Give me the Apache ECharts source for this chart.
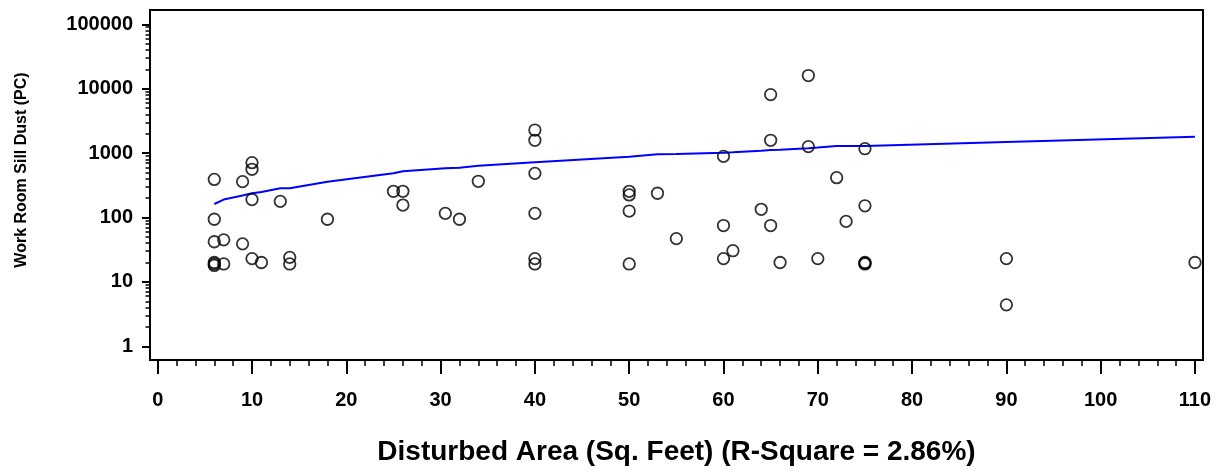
<!DOCTYPE html>
<html>
<head>
<meta charset="utf-8">
<script src="https://cdn.jsdelivr.net/npm/echarts@6/dist/echarts.min.js"></script>
<style>
  html, body { margin: 0; padding: 0; background: #fff; }
  #chart { width: 1225px; height: 474px; }
</style>
</head>
<body>
<div id="chart"></div>
<script>
// ---- data ----
const areaX = [6, 6, 6, 6, 6, 6, 7, 7, 9, 9, 10, 10, 10, 10, 11, 13, 14, 14, 18, 25, 26, 26, 30.5, 32, 34,
  40, 40, 40, 40, 40, 40, 50, 50, 50, 50, 53, 55, 60, 60, 60, 61, 64, 65, 65, 65, 66, 69, 69, 70, 72, 73,
  75, 75, 75, 75, 75, 90, 90, 110];
const dustY = [390, 94, 42, 20, 19, 18, 45, 19, 360, 39, 710, 560, 190, 23, 20, 178, 24, 19, 94, 255, 255, 156, 116, 94, 365,
  2280, 1580, 485, 116, 23, 19, 255, 224, 126, 19, 238, 47, 890, 75, 23, 30.5, 134, 8100, 1580, 75, 20, 16000, 1260, 23, 415, 87,
  1170, 152, 20, 19, 19.5, 23, 4.4, 20];

const fitX = [6, 7, 9, 10, 11, 13, 14, 18, 25, 26, 30.5, 32, 34, 40, 50, 53, 55, 60, 61, 64, 65, 66, 69, 70, 72, 73, 75, 90, 110];
const fitY = [162, 190, 220, 238, 249, 284, 284, 360, 485, 521, 580, 593, 637, 719, 880, 958, 968, 1015, 1030, 1090, 1117, 1125,
  1190, 1220, 1290, 1290, 1290, 1485, 1797];

const xMajorTicks = [0, 10, 20, 30, 40, 50, 60, 70, 80, 90, 100, 110];
const xMinorTicks = [2, 4, 6, 8, 12, 14, 16, 18, 22, 24, 26, 28, 32, 34, 36, 38, 42, 44, 46, 48, 52, 54, 56, 58,
  62, 64, 66, 68, 72, 74, 76, 78, 82, 84, 86, 88, 92, 94, 96, 98, 102, 104, 106, 108];
const yMajorTicks = [1, 10, 100, 1000, 10000, 100000];
const yMinorTicks = [2, 3, 4, 5, 6, 7, 8, 9, 20, 30, 40, 50, 60, 70, 80, 90, 200, 300, 400, 500, 600, 700, 800, 900,
  2000, 3000, 4000, 5000, 6000, 7000, 8000, 9000, 20000, 30000, 40000, 50000, 60000, 70000, 80000, 90000];

const xTitle = 'Disturbed Area (Sq. Feet) (R-Square = 2.86%)';
const yTitle = 'Work Room Sill Dust (PC)';

// axis extents (frame box reaches a little beyond the labelled ticks)
const X_MIN = -0.817, X_MAX = 110.85;
const Y_MIN = 0.6128, Y_MAX = 166700;

const FONT = "'Liberation Sans', Arial, Helvetica, sans-serif";

const chart = echarts.init(document.getElementById('chart'), null, { renderer: 'canvas' });

const option = {
  animation: false,
  backgroundColor: '#ffffff',
  grid: {
    left: 150, top: 10, width: 1053, height: 350,
    show: true, borderColor: '#000', borderWidth: 2, backgroundColor: 'transparent',
    containLabel: false, outerBoundsMode: 'none'
  },
  xAxis: [
    {
      type: 'value', position: 'bottom', min: X_MIN, max: X_MAX,
      name: xTitle, nameLocation: 'middle', nameGap: 78,
      nameTextStyle: { fontFamily: FONT, fontWeight: 'bold', fontSize: 28, color: '#000' },
      axisLine: { show: true, onZero: false, lineStyle: { color: '#000', width: 2 } },
      axisTick: { show: true, inside: false, length: 14, customValues: xMajorTicks, lineStyle: { color: '#000', width: 2 } },
      axisLabel: { show: true, customValues: xMajorTicks, margin: 30, fontFamily: FONT, fontWeight: 'bold', fontSize: 20, color: '#000',
        formatter: function (v) { return String(Math.round(v)); } },
      splitLine: { show: false }
    },
    {
      type: 'value', position: 'bottom', min: X_MIN, max: X_MAX,
      axisLine: { show: false, onZero: false },
      axisTick: { show: true, inside: false, length: 6, customValues: xMinorTicks, lineStyle: { color: '#000', width: 1.5 } },
      axisLabel: { show: false },
      splitLine: { show: false }
    }
  ],
  yAxis: [
    {
      type: 'log', logBase: 10, position: 'left', min: Y_MIN, max: Y_MAX,
      name: yTitle, nameLocation: 'middle', nameGap: 120,
      nameTextStyle: { fontFamily: FONT, fontWeight: 'bold', fontSize: 16, color: '#000', padding: [0, 0, 0, 30] },
      axisLine: { show: true, onZero: false, lineStyle: { color: '#000', width: 2 } },
      axisTick: { show: true, inside: false, length: 8, customValues: yMajorTicks, lineStyle: { color: '#000', width: 2 } },
      axisLabel: { show: true, customValues: yMajorTicks, margin: 17, fontFamily: FONT, fontWeight: 'bold', fontSize: 20, color: '#000',
        formatter: function (v) { return String(Math.round(v)); } },
      splitLine: { show: false }
    },
    {
      type: 'log', logBase: 10, position: 'left', min: Y_MIN, max: Y_MAX,
      axisLine: { show: false, onZero: false },
      axisTick: { show: true, inside: false, length: 4.5, customValues: yMinorTicks, lineStyle: { color: '#000', width: 1.5 } },
      axisLabel: { show: false },
      splitLine: { show: false }
    }
  ],
  series: [
    {
      name: 'Fit', type: 'line', xAxisIndex: 0, yAxisIndex: 0,
      data: fitX.map(function (x, i) { return [x, fitY[i]]; }),
      symbol: 'none', showSymbol: false, smooth: false,
      lineStyle: { color: '#0000ff', width: 2 },
      z: 2
    },
    {
      name: 'Observed', type: 'scatter', xAxisIndex: 0, yAxisIndex: 0,
      data: areaX.map(function (x, i) { return [x, dustY[i]]; }),
      symbol: 'circle', symbolSize: 11.5,
      itemStyle: { color: 'rgba(0,0,0,0)', borderColor: '#000', borderWidth: 1.8 },
      emphasis: { disabled: true },
      z: 3
    }
  ]
};

chart.setOption(option);
</script>
</body>
</html>
